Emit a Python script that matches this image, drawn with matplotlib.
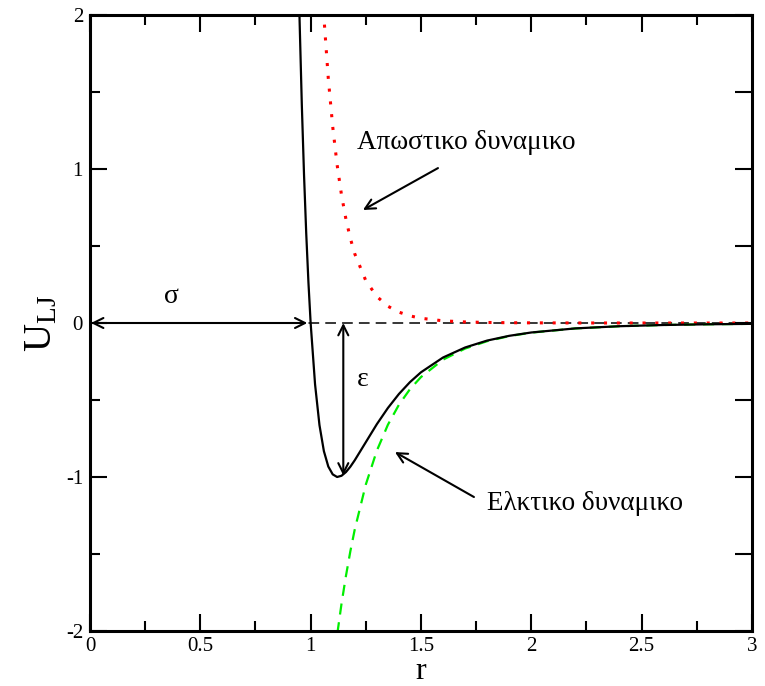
import numpy as np
import matplotlib
matplotlib.use("Agg")
import matplotlib.pyplot as plt
from matplotlib.ticker import MultipleLocator

plt.rcParams['font.family'] = ['Liberation Serif', 'DejaVu Serif']
plt.rcParams['mathtext.fontset'] = 'custom'
plt.rcParams['mathtext.rm'] = 'Liberation Serif'
plt.rcParams['mathtext.it'] = 'Liberation Serif'

# Lennard-Jones total potential (black solid)
r_lj = [0.94, 0.95, 0.96, 0.97, 0.98, 0.99, 1.00, 1.02, 1.04, 1.06, 1.08, 1.10,
        1.12, 1.14, 1.16, 1.18, 1.20, 1.25, 1.30, 1.35, 1.40, 1.45, 1.50, 1.60,
        1.70, 1.80, 1.90, 2.00, 2.20, 2.40, 2.60, 2.80, 3.00]
u_lj = [2.607, 1.961, 1.418, 0.963, 0.582, 0.264, 0.000, -0.398, -0.663, -0.832,
        -0.932, -0.983, -1.000, -0.992, -0.968, -0.933, -0.891, -0.774, -0.657,
        -0.552, -0.461, -0.384, -0.320, -0.224, -0.159, -0.114, -0.0832, -0.0615,
        -0.0350, -0.0208, -0.0129, -0.0083, -0.0055]

# Repulsive part (red dotted)
r_rep = [1.05, 1.06, 1.08, 1.10, 1.12, 1.14, 1.16, 1.18, 1.20, 1.25, 1.30, 1.35,
         1.40, 1.45, 1.50, 1.60, 1.70, 1.80, 1.90, 2.00, 2.20, 2.40, 2.60, 2.80, 3.00]
u_rep = [2.227, 1.988, 1.588, 1.275, 1.027, 0.830, 0.674, 0.549, 0.449, 0.275,
         0.172, 0.109, 0.0706, 0.0463, 0.0308, 0.0142, 0.0069, 0.0035, 0.0018,
         0.00098, 0.0003, 0.0001, 0.0, 0.0, 0.0]

# Attractive part (green dashed)
r_att = [1.10, 1.12, 1.14, 1.16, 1.18, 1.20, 1.25, 1.30, 1.35, 1.40, 1.45, 1.50,
         1.60, 1.70, 1.80, 1.90, 2.00, 2.20, 2.40, 2.60, 2.80, 3.00]
u_att = [-2.258, -2.027, -1.822, -1.642, -1.482, -1.340, -1.049, -0.829, -0.661,
         -0.531, -0.430, -0.351, -0.238, -0.166, -0.118, -0.0850, -0.0625, -0.0353,
         -0.0209, -0.0129, -0.0083, -0.0055]

x_ticks = [0, 0.5, 1, 1.5, 2, 2.5, 3]
x_tick_labels = ['0', '0.5', '1', '1.5', '2', '2.5', '3']
y_ticks = [-2, -1, 0, 1, 2]
y_tick_labels = ['-2', '-1', '0', '1', '2']

label_rep = 'Απωστικο δυναμικο'
label_att = 'Ελκτικο δυναμικο'

fig = plt.figure(figsize=(7.65, 6.86), dpi=100)
ax = fig.add_axes([0.1176, 0.0802, 0.8654, 0.8979])

ax.plot([0, 3], [0, 0], color='black', lw=1.1, dashes=(7, 4), zorder=1)
ax.plot(r_rep, u_rep, color='#ff0000', lw=2.2, linestyle=(0, (1, 3.2)), zorder=2)
ax.plot(r_att, u_att, color='#00ee00', lw=1.6, linestyle=(0, (5, 3.5)), zorder=2)
ax.plot(r_lj, u_lj, color='black', lw=1.6, zorder=3)

ax.set_xlim(0, 3)
ax.set_ylim(-2, 2)

ax.set_xticks(x_ticks)
ax.set_xticklabels(x_tick_labels)
ax.set_yticks(y_ticks)
ax.set_yticklabels(y_tick_labels)
ax.xaxis.set_minor_locator(MultipleLocator(0.25))
ax.yaxis.set_minor_locator(MultipleLocator(0.5))
ax.tick_params(which='major', direction='in', length=12, width=1.5,
               top=True, bottom=True, left=True, right=False, labelsize=15, pad=5)
ax.tick_params(axis='x', which='major', pad=4)
ax.tick_params(which='minor', direction='in', length=7, width=1.5,
               top=True, bottom=True, left=True, right=False)
for s in ax.spines.values():
    s.set_linewidth(2.2)

ax2 = ax.twinx()
ax2.set_ylim(-2, 2)
ax2.set_yticks(np.arange(-2, 2.01, 0.5))
ax2.tick_params(direction='in', length=12, width=1.5, labelright=False)
for s in ax2.spines.values():
    s.set_visible(False)

# x-axis label placed explicitly so it fits below the tick labels
fig.text(0.1176 + 0.8654 * (1.5 / 3.0), 0.0, 'r', fontsize=23,
         ha='center', va='bottom')
ax.set_ylabel(r'$\mathregular{U_{LJ}}$', fontsize=28, labelpad=4)

arrow_kw = dict(arrowstyle='->', lw=1.5, color='black', mutation_scale=18,
                shrinkA=0, shrinkB=0)
ax.annotate('', xy=(0.985, 0), xytext=(0.005, 0),
            arrowprops=dict(arrowstyle='<->', lw=1.5, color='black',
                            mutation_scale=18, shrinkA=0, shrinkB=0))
ax.annotate('', xy=(1.148, 0.0), xytext=(1.148, -0.99),
            arrowprops=dict(arrowstyle='<->', lw=1.5, color='black',
                            mutation_scale=18, shrinkA=0, shrinkB=0))
ax.annotate('', xy=(1.237, 0.734), xytext=(1.577, 1.006), arrowprops=arrow_kw)
ax.annotate('', xy=(1.382, -0.838), xytext=(1.74, -1.13), arrowprops=arrow_kw)

ax.text(0.37, 0.17, 'σ', fontsize=20, ha='center', va='center')
ax.text(1.237, -0.37, 'ε', fontsize=20, ha='center', va='center')
ax.text(1.21, 1.17, label_rep, fontsize=19.5, ha='left', va='center')
ax.text(1.80, -1.17, label_att, fontsize=19.5, ha='left', va='center')

fig.savefig('out.png', dpi=100)
